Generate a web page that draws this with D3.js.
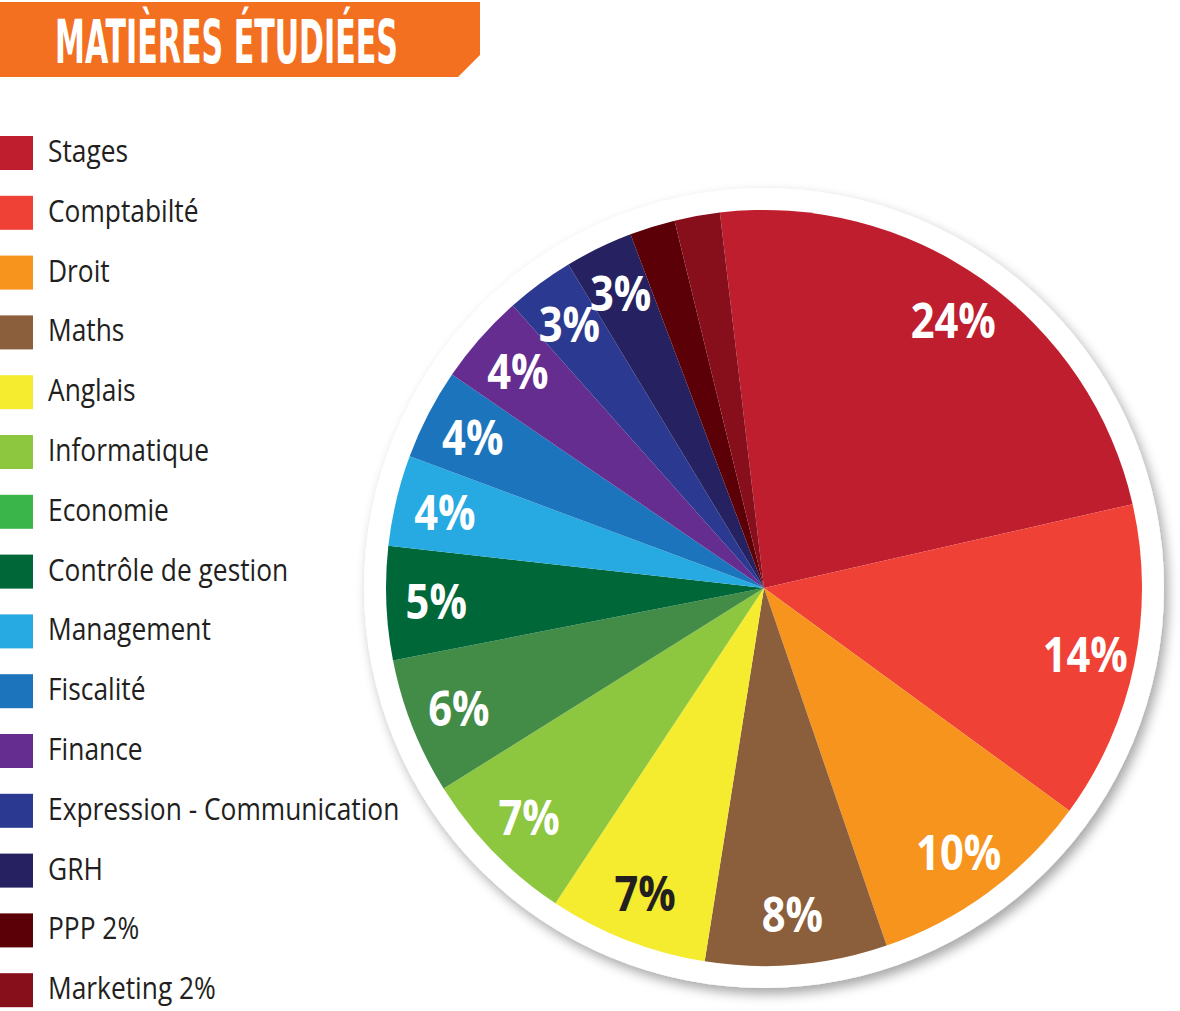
<!DOCTYPE html>
<html>
<head>
<meta charset="utf-8">
<script src="https://cdn.jsdelivr.net/npm/d3@7"></script>
<style>
  body { margin: 0; background: #fff; }
  svg { display: block; }
</style>
</head>
<body>
<div class="canvas"></div>
<script>
// data
const subjects = ["Stages", "Comptabilté", "Droit", "Maths", "Anglais", "Informatique", "Economie",
  "Contrôle de gestion", "Management", "Fiscalité", "Finance", "Expression - Communication",
  "GRH", "PPP 2%", "Marketing 2%"];
const shares = [24, 14, 10, 8, 7, 7, 6, 5, 4, 4, 4, 3, 3, 2, 2];
const sliceLabels = ["24%", "14%", "10%", "8%", "7%", "7%", "6%", "5%", "4%", "4%", "4%", "3%", "3%", "", ""];
const title = "MATIÈRES ÉTUDIÉES";

// colours
const legendColors = ["#BE1E2D", "#EF4136", "#F7941D", "#8B5E3C", "#F5EB2F", "#8DC63F", "#3AB54A",
  "#006838", "#27AAE1", "#1C75BC", "#662D91", "#2B3990", "#262262", "#5A0006", "#870F1B"];
// the pie uses a darker green for Economie than its legend swatch
const pieColors = legendColors.map((c, i) => subjects[i] === "Economie" ? "#438C48" : c);

const width = 1180, height = 1011;
const cx = 764, cy = 588, radius = 378, ringRadius = 400;
const startAngle = -6.7 * Math.PI / 180;

const svg = d3.select('.canvas').append('svg')
    .attr('width', width)
    .attr('height', height);

// shadow for the white ring
const defs = svg.append('defs');
defs.append('filter')
    .attr('id', 'shadow')
    .attr('x', '-10%').attr('y', '-10%').attr('width', '120%').attr('height', '120%')
  .append('feDropShadow')
    .attr('dx', 4).attr('dy', 6)
    .attr('stdDeviation', 6)
    .attr('flood-color', '#000')
    .attr('flood-opacity', 0.35);

// title banner
svg.append('path')
    .attr('d', 'M0,2 H480 V55 L458,77 H0 Z')
    .attr('fill', '#F37021');

svg.append('text')
    .attr('x', 55)
    .attr('y', 63)
    .attr('textLength', 343)
    .attr('lengthAdjust', 'spacingAndGlyphs')
    .attr('font-family', '"Liberation Sans Narrow", "DejaVu Sans Condensed", sans-serif')
    .attr('font-weight', 'bold')
    .attr('font-size', 60)
    .attr('fill', '#fff')
    .text(title);

// legend
const legend = svg.append('g').attr('class', 'legend');
const rowStep = 59.8;

const rows = legend.selectAll('g')
    .data(subjects)
    .enter()
    .append('g')
    .attr('transform', (d, i) => `translate(0, ${136 + i * rowStep})`);

rows.append('rect')
    .attr('x', 0)
    .attr('y', 0)
    .attr('width', 33)
    .attr('height', 34)
    .attr('fill', (d, i) => legendColors[i]);

// Open Sans squeezed a bit to look like the narrower original face
rows.append('text')
    .attr('transform', 'translate(48, 26) scale(0.85, 1)')
    .attr('font-family', '"Open Sans", sans-serif')
    .attr('font-size', 31)
    .attr('fill', '#231F20')
    .text(d => d);

// pie
const graph = svg.append('g')
    .attr('transform', `translate(${cx}, ${cy})`);

graph.append('circle')
    .attr('r', ringRadius)
    .attr('fill', '#fff')
    .attr('filter', 'url(#shadow)');

const pie = d3.pie()
    .sort(null)
    .value(d => d)
    .startAngle(startAngle)
    .endAngle(startAngle + 2 * Math.PI);

const arc = d3.arc().innerRadius(0).outerRadius(radius);
const labelArc = d3.arc().innerRadius(328).outerRadius(328);

const arcs = pie(shares);

graph.selectAll('path.slice')
    .data(arcs)
    .enter()
    .append('path')
    .attr('class', 'slice')
    .attr('d', arc)
    .attr('fill', (d, i) => pieColors[i]);

graph.selectAll('text.pct')
    .data(arcs)
    .enter()
    .append('text')
    .attr('class', 'pct')
    .attr('transform', d => `translate(${labelArc.centroid(d)}) scale(0.85, 1)`)
    .attr('text-anchor', 'middle')
    .attr('dy', '0.36em')
    .attr('font-family', '"Open Sans", sans-serif')
    .attr('font-weight', 'bold')
    .attr('font-size', 49)
    .attr('fill', (d, i) => subjects[i] === "Anglais" ? '#231F20' : '#fff')
    .text((d, i) => sliceLabels[i]);
</script>
</body>
</html>
